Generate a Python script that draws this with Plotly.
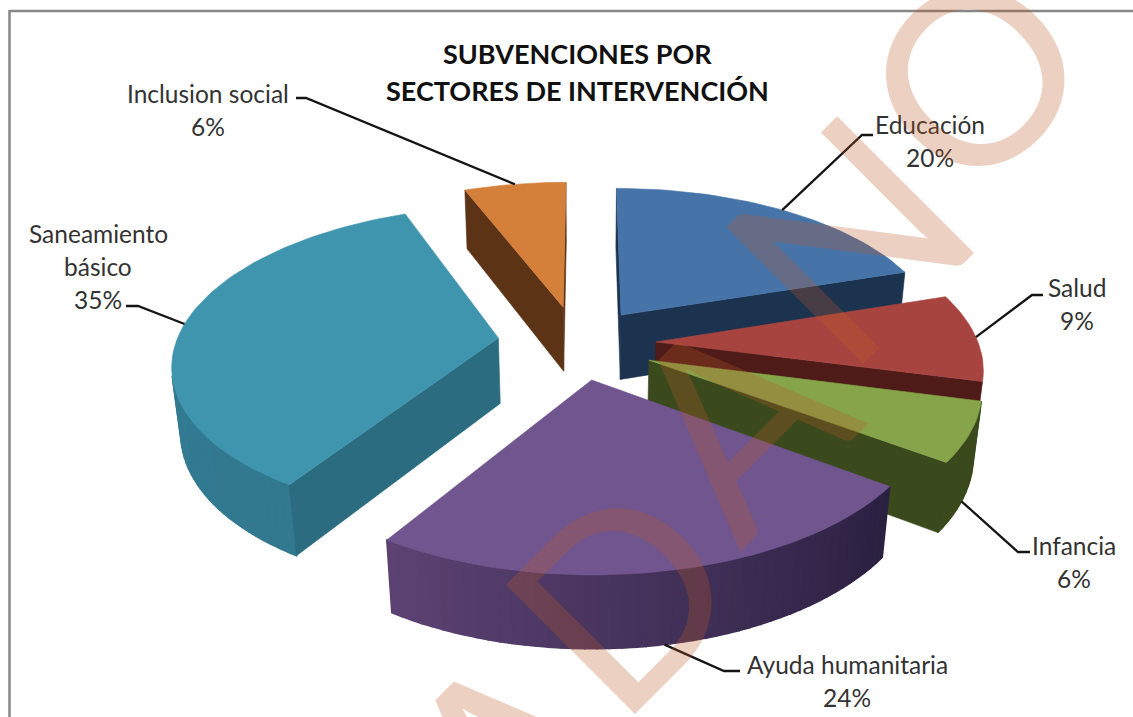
"""Subvenciones por sectores: tarta 3D separada, proyectada a mano sobre ejes ocultos."""
import numpy as np
import plotly.graph_objects as go

SECTORES = ["Educación", "Salud", "Infancia", "Ayuda humanitaria", "Saneamiento básico", "Inclusion social"]
PORCENTAJES = [20, 9, 6, 24, 35, 6]

# separación de cada porción (centro en unidades del disco)
CENTRO_X = [0.115, 0.22, 0.195, 0.02, -0.27, -0.07]
CENTRO_W = [0.20, 0.02, -0.097, -0.22, 0.045, 0.255]

COLOR_TAPA = ["#4674A9", "#A8443F", "#86A44A", "#70558F", "#3F94AE", "#D5803A"]
COLOR_RADIAL = ["#1C3350", "#4E1B18", "#3A4A1C", "#2B2040", "#2C6C80", "#5C3415"]
COLOR_ARCO_A = ["#1C3350", "#4E1B18", "#3A4A1C", "#5C4273", "#348299", "#5C3415"]
COLOR_ARCO_B = ["#1C3350", "#4E1B18", "#3A4A1C", "#2A2040", "#32788F", "#5C3415"]
ORDEN_DIBUJO = [5, 0, 4, 1, 2, 3]

# texto de cada etiqueta y dónde queda
ETIQUETA_LINEAS = [["Educación", "20%"], ["Salud", "9%"], ["Infancia", "6%"],
                   ["Ayuda humanitaria", "24%"], ["Saneamiento", "básico", "35%"], ["Inclusion social", "6%"]]
ETIQUETA_X = [930, 1077, 1074, 847, 98, 208]
ETIQUETA_Y = [124, 287, 545, 664, 233, 93]
CODO_X = [862, 1032, 1018, 724, 138, 306]
CODO_Y = [135, 295, 552, 671, 306, 98]
FIN_X = [873, 1043, 1030, 740, 126, 296]
EN_BASE = [False, False, True, True, False, False]

MARCA_LETRAS = ["A", "D", "A", "N", "O"]
MARCA_X = [509, 617, 732, 845, 970]
MARCA_Y = [753, 592, 413, 235, 72]
MARCA_TAM = [270, 255, 270, 270, 243]

CX, CY, ESC_X, ESC_W, ESC_Z, K, M = 585, 345, 323, 154, 67, 0.15, 0.022


def proyecta(x, w, z):
    s = 1 / (1 + K * w - M * z)
    return CX + ESC_X * x * s, CY - ESC_W * w * s - ESC_Z * z * s


def mezcla(a, b, t):
    ca = [int(a[i:i + 2], 16) for i in (1, 3, 5)]
    cb = [int(b[i:i + 2], 16) for i in (1, 3, 5)]
    return "rgb(%d,%d,%d)" % tuple(round(p + (q - p) * t) for p, q in zip(ca, cb))


def area(xs, ys):
    return 0.5 * sum(xs[i] * ys[(i + 1) % len(xs)] - xs[(i + 1) % len(xs)] * ys[i] for i in range(len(xs)))


def poligono(fig, xs, ys, color, grosor=0.6):
    fig.add_trace(go.Scatter(
        x=list(xs) + [xs[0]], y=list(ys) + [ys[0]], mode="lines", fill="toself",
        fillcolor=color, line=dict(color=color, width=grosor),
        hoverinfo="skip", showlegend=False,
    ))


def cara(fig, puntos, color, grosor=0.6):
    """Pared entre dos puntos del disco; sólo si mira al observador."""
    (x0, w0), (x1, w1) = puntos
    xy = [proyecta(x0, w0, 0), proyecta(x1, w1, 0), proyecta(x1, w1, -1), proyecta(x0, w0, -1)]
    xs, ys = zip(*xy)
    if area(xs, ys) < 0:
        poligono(fig, xs, ys, color, grosor)


fig = go.Figure()
limites = np.cumsum([0] + PORCENTAJES) * 2 * np.pi / 100

for i in ORDEN_DIBUJO:
    a0, a1 = limites[i], limites[i + 1]
    cx, cw = CENTRO_X[i], CENTRO_W[i]
    angs = np.linspace(a0, a1, max(6, PORCENTAJES[i] * 2))
    borde = [(cx + np.sin(a), cw + np.cos(a)) for a in angs]

    for j in range(len(borde) - 1):
        # la sombra va de izquierda (claro) a derecha (oscuro) en los arcos frontales
        t = 1 - j / (len(borde) - 2)
        cara(fig, [borde[j], borde[j + 1]], mezcla(COLOR_ARCO_A[i], COLOR_ARCO_B[i], t), grosor=1.5)
    cara(fig, [(cx, cw), borde[0]], COLOR_RADIAL[i])
    cara(fig, [borde[-1], (cx, cw)], COLOR_RADIAL[i])

    xs, ys = zip(*[proyecta(x, w, 0) for x, w in [(cx, cw)] + borde])
    poligono(fig, xs, ys, COLOR_TAPA[i])

for i in range(len(SECTORES)):
    medio = (limites[i] + limites[i + 1]) / 2
    x0, y0 = proyecta(CENTRO_X[i] + np.sin(medio), CENTRO_W[i] + np.cos(medio), -1 if EN_BASE[i] else 0)
    fig.add_trace(go.Scatter(
        x=[x0, CODO_X[i], FIN_X[i]], y=[y0, CODO_Y[i], CODO_Y[i]], mode="lines",
        line=dict(color="#151515", width=2.3), hoverinfo="skip", showlegend=False,
    ))
    for n, linea in enumerate(ETIQUETA_LINEAS[i]):
        fig.add_annotation(x=ETIQUETA_X[i], y=ETIQUETA_Y[i] + 33 * n, text=linea, showarrow=False,
                           xanchor="center", yanchor="middle",
                           font=dict(family="Lato", size=24.5, color="#333333"))

for linea, y in [("SUBVENCIONES POR", 53), ("SECTORES DE INTERVENCIÓN", 90)]:
    fig.add_annotation(x=577, y=y, text=linea, showarrow=False, xanchor="center", yanchor="middle",
                       font=dict(family="Lato", size=27, color="#111111", weight="bold"))

for letra, x, y, tam in zip(MARCA_LETRAS, MARCA_X, MARCA_Y, MARCA_TAM):
    fig.add_annotation(x=x / 1133, y=1 - y / 717, xref="paper", yref="paper", text=letra,
                       showarrow=False, textangle=-45, xanchor="center", yanchor="middle",
                       font=dict(family="Lato", size=tam, color="rgba(185,90,40,0.28)"))

# marco: sólo arriba y a la izquierda, el resto queda fuera de la captura
fig.add_shape(type="line", x0=9.5, x1=1133, y0=11, y1=11, line=dict(color="#868686", width=2.5), layer="below")
fig.add_shape(type="line", x0=9.5, x1=9.5, y0=10, y1=717, line=dict(color="#868686", width=2.5), layer="below")

fig.update_xaxes(range=[0, 1133], visible=False, fixedrange=True)
fig.update_yaxes(range=[717, 0], visible=False, fixedrange=True)
fig.update_layout(
    width=1133, height=717, margin=dict(l=0, r=0, t=0, b=0),
    paper_bgcolor="white", plot_bgcolor="white", showlegend=False,
)
fig.write_html("out.html", config={"displayModeBar": False},
               post_script="document.body.style.margin='0';")
